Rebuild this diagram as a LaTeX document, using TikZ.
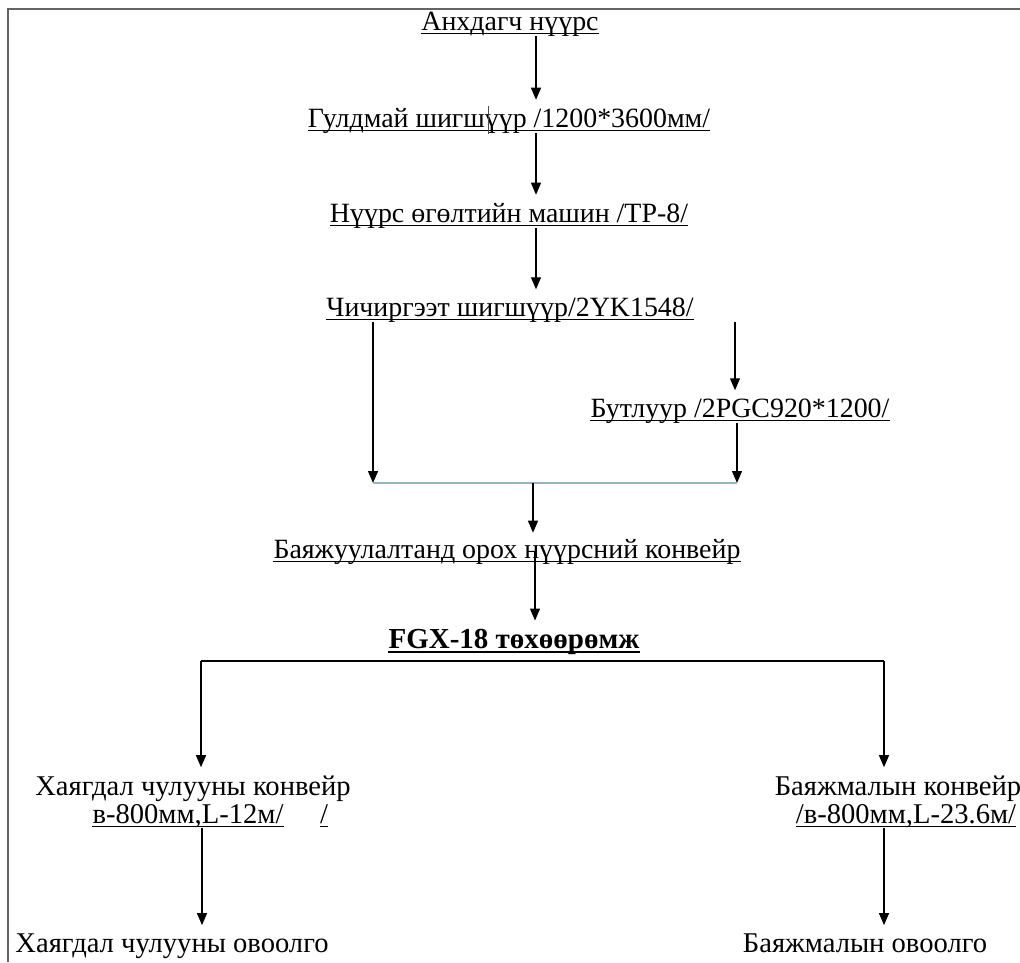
\documentclass[tikz,border=0pt]{standalone}
\usepackage{fontspec}
\setmainfont{Liberation Serif}
\newfontfamily\tnr{Liberation Serif}
\usetikzlibrary{arrows.meta,calc}
\definecolor{framegrey}{RGB}{100,100,100}
\definecolor{mergeline}{RGB}{150,180,200}
\begin{document}
\begin{tikzpicture}[x=1pt,y=-1pt,
  lbl/.style={inner sep=0pt,anchor=base,font=\tnr\fontsize{27.9}{32}\selectfont},
  lblb/.style={lbl,font=\tnr\fontsize{28.6}{32}\selectfont},
  arr/.style={draw,line width=1.3pt,-{Triangle[width=10pt,length=12pt]}},
  ulin/.style={line width=1.1pt},
  frameline/.style={draw=framegrey,line width=1.5pt}]
\useasboundingbox (0,0) rectangle (1020,962);
\draw[frameline] (1020,9) -- (8,9) -- (8,962);
% column coordinates
\coordinate (colA) at (536,0);
\coordinate (colR1) at (735,0);
\coordinate (colR2) at (737,0);
\coordinate (colL) at (373,0);
\coordinate (colF) at (535,0);
\coordinate (mL) at (373,483);
\coordinate (mR) at (737,483);
\coordinate (mM) at (533,483);
\coordinate (sL) at (201,661);
\coordinate (sR) at (884,661);
\coordinate (colB1) at (202,0);
\coordinate (colB2) at (884,0);
% nodes
\node[lbl] (a) at (510,30) {Анхдагч нүүрс};
\node[lbl] (b) at (509,127) {Гулдмай шигшүүр /1200*3600мм/};
\node[lbl] (c) at (509,222) {Нүүрс өгөлтийн машин /TP-8/};
\node[lbl] (d) at (510,316) {Чичиргээт шигшүүр/2YK1548/};
\node[lbl] (e) at (740,417) {Бутлуур /2PGC920*1200/};
\node[lbl] (f) at (507,558) {Баяжуулалтанд орох нүүрсний конвейр};
\node[lbl,font=\tnr\fontsize{29}{32}\selectfont\bfseries] (g) at (514,648) {FGX-18 төхөөрөмж};
\node[lblb] (h) at (193,795) {Хаягдал чулууны конвейр};
\node[lblb] (h2) at (188,823) {в-800мм,L-12м/};
\node[lblb] (h3) at (324,823) {/};
\node[lblb] (i) at (898,795) {Баяжмалын конвейр};
\node[lblb] (i2) at (906,823) {/в-800мм,L-23.6м/};
\node[lblb] (j) at (172,952) {Хаягдал чулууны овоолго};
\node[lblb] (k) at (865,952) {Баяжмалын овоолго};
% underlines
\foreach \n in {a,b,c,d,e,f,h2,h3,i2}
  \draw[ulin] ([yshift=-3.5pt]\n.base west) -- ([yshift=-3.5pt]\n.base east);
\draw[line width=2pt] ([yshift=-4pt]g.base west) -- ([yshift=-4pt]g.base east);
% cursor mark
\draw[line width=0.8pt,black!70] (488,106) -- (488,134);
% connectors
\draw[arr,shorten >=8pt] (a.south -| colA) -- (b.north -| colA);
\draw[arr,shorten >=8pt] (b.south -| colA) -- (c.north -| colA);
\draw[arr,shorten >=8pt] (c.south -| colA) -- (d.north -| colA);
\draw[arr,shorten >=8pt] (d.south -| colR1) -- (e.north -| colR1);
\draw[arr] (d.south -| colL) -- (mL);
\draw[arr] (e.south -| colR2) -- (mR);
\draw[line width=1.3pt,mergeline] (mL) -- (mR);
\draw[arr,shorten >=6pt] (mM) -- (f.north -| mM);
\draw[arr,shorten >=8pt] (f.center -| colF) -- (g.north -| colF);
\draw[line width=1.3pt] (sL) -- (sR);
\draw[arr,shorten >=8pt] (sL) -- (h.north -| sL);
\draw[arr,shorten >=8pt] (sR) -- (i.north -| sR);
\draw[arr,shorten >=8pt] (h2.south -| colB1) -- (j.north -| colB1);
\draw[arr,shorten >=8pt] (i2.south -| colB2) -- (k.north -| colB2);
\end{tikzpicture}
\end{document}
